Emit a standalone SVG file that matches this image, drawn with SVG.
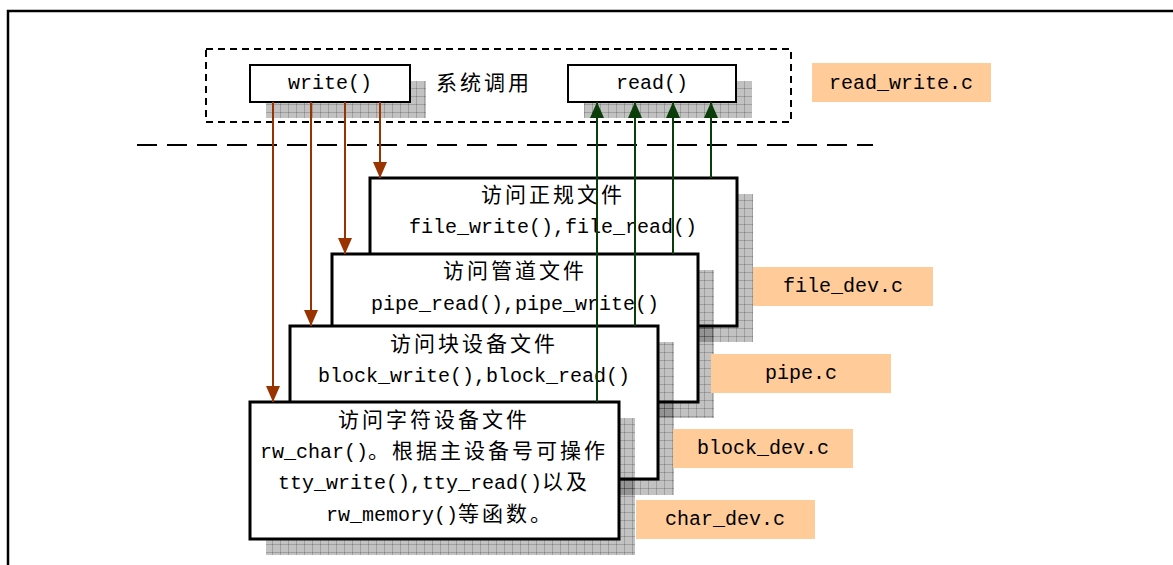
<svg xmlns="http://www.w3.org/2000/svg" width="1173" height="565" viewBox="0 0 1173 565">
<style>
.t{font-family:"Liberation Mono","Noto Sans CJK SC",monospace;font-size:20px;fill:#000;text-anchor:middle}
.c{font-family:"Noto Sans CJK SC",sans-serif;font-size:21px;letter-spacing:3px}
.box{fill:#fff;stroke:#000;stroke-width:3}
.sbox{fill:#fff;stroke:#000;stroke-width:2}
.sh{fill:url(#shp)}
.lab{fill:#ffcc99}
.w{stroke:#993300;stroke-width:2;fill:none;marker-end:url(#ab)}
.r{stroke:#0a3d0a;stroke-width:2;fill:none;marker-end:url(#ag)}
</style>
<defs>
<pattern id="shp" width="8" height="8" patternUnits="userSpaceOnUse">
<rect width="8" height="8" fill="#000" fill-opacity="0.24"/>
<path d="M0,0.5H8M0.5,0V8" stroke="#000" stroke-opacity="0.18" stroke-width="1"/>
</pattern>
<marker id="ab" markerUnits="userSpaceOnUse" markerWidth="16" markerHeight="14" refX="16" refY="7" orient="auto">
<path d="M0,0L16,7L0,14z" fill="#993300"/>
</marker>
<marker id="ag" markerUnits="userSpaceOnUse" markerWidth="16" markerHeight="14" refX="16" refY="7" orient="auto">
<path d="M0,0L16,7L0,14z" fill="#0a3d0a"/>
</marker>
</defs>
<rect width="1173" height="565" fill="#fff"/>
<g id="frame" fill="none">
<path d="M8,565V11H1173" stroke="#000" stroke-width="2.5"/>
</g>
<g id="syscall">
<rect x="206" y="49" width="585" height="73" fill="none" stroke="#000" stroke-width="2" stroke-dasharray="7,5"/>
<text class="t" x="484" y="90"><tspan class="c">系统调用</tspan></text>
</g>
<line id="divider" x1="137" y1="145" x2="873" y2="145" stroke="#000" stroke-width="2" stroke-dasharray="20,10"/>
<g id="write">
<rect class="sh" x="266" y="81" width="160" height="37"/>
<rect class="sbox" x="250" y="65" width="160" height="37"/>
<text class="t" x="330" y="89">write()</text>
</g>
<g id="read">
<rect class="sh" x="584" y="81" width="168" height="37"/>
<rect class="sbox" x="568" y="65" width="168" height="37"/>
<text class="t" x="652" y="89">read()</text>
</g>
<g id="read_write">
<rect class="lab" x="812" y="63" width="179" height="39"/>
<text class="t" x="901" y="89">read_write.c</text>
</g>
<g id="box1">
<rect class="sh" x="386" y="194" width="367" height="148"/>
<rect class="box" x="370" y="178" width="367" height="148"/>
<text class="t" x="553" y="202"><tspan class="c">访问正规文件</tspan></text>
<text class="t" x="553" y="233">file_write(),file_read()</text>
</g>
<g id="box2">
<rect class="sh" x="348" y="270" width="366" height="148"/>
<rect class="box" x="332" y="254" width="366" height="148"/>
<text class="t" x="515" y="278"><tspan class="c">访问管道文件</tspan></text>
<text class="t" x="515" y="310">pipe_read(),pipe_write()</text>
</g>
<g id="box3">
<rect class="sh" x="306" y="342" width="368" height="153"/>
<rect class="box" x="290" y="326" width="368" height="153"/>
<text class="t" x="474" y="351"><tspan class="c">访问块设备文件</tspan></text>
<text class="t" x="474" y="382">block_write(),block_read()</text>
</g>
<g id="box4">
<rect class="sh" x="266" y="418" width="369" height="137"/>
<rect class="box" x="250" y="402" width="369" height="137"/>
<text class="t" x="434" y="427"><tspan class="c">访问字符设备文件</tspan></text>
<text class="t" x="434" y="458">rw_char()<tspan class="c">。根据主设备号可操作</tspan></text>
<text class="t" x="434" y="489">tty_write(),tty_read()<tspan class="c">以及</tspan></text>
<text class="t" x="440" y="521">rw_memory()<tspan class="c">等函数。</tspan></text>
</g>
<g id="file_dev">
<rect class="lab" x="753" y="267" width="180" height="39"/>
<text class="t" x="843" y="292">file_dev.c</text>
</g>
<g id="pipe">
<rect class="lab" x="711" y="354" width="180" height="39"/>
<text class="t" x="801" y="379">pipe.c</text>
</g>
<g id="block_dev">
<rect class="lab" x="673" y="429" width="180" height="39"/>
<text class="t" x="763" y="454">block_dev.c</text>
</g>
<g id="char_dev">
<rect class="lab" x="636" y="500" width="179" height="39"/>
<text class="t" x="725" y="525">char_dev.c</text>
</g>
<g id="connectors">
<line class="w" x1="273" y1="102" x2="273" y2="402"/>
<line class="w" x1="311" y1="102" x2="311" y2="326"/>
<line class="w" x1="345" y1="102" x2="345" y2="254"/>
<line class="w" x1="380" y1="102" x2="380" y2="178"/>
<line class="r" x1="597" y1="402" x2="597" y2="102"/>
<line class="r" x1="635" y1="326" x2="635" y2="102"/>
<line class="r" x1="673" y1="254" x2="673" y2="102"/>
<line class="r" x1="711" y1="178" x2="711" y2="102" stroke-width="1.5"/>
</g>
</svg>
